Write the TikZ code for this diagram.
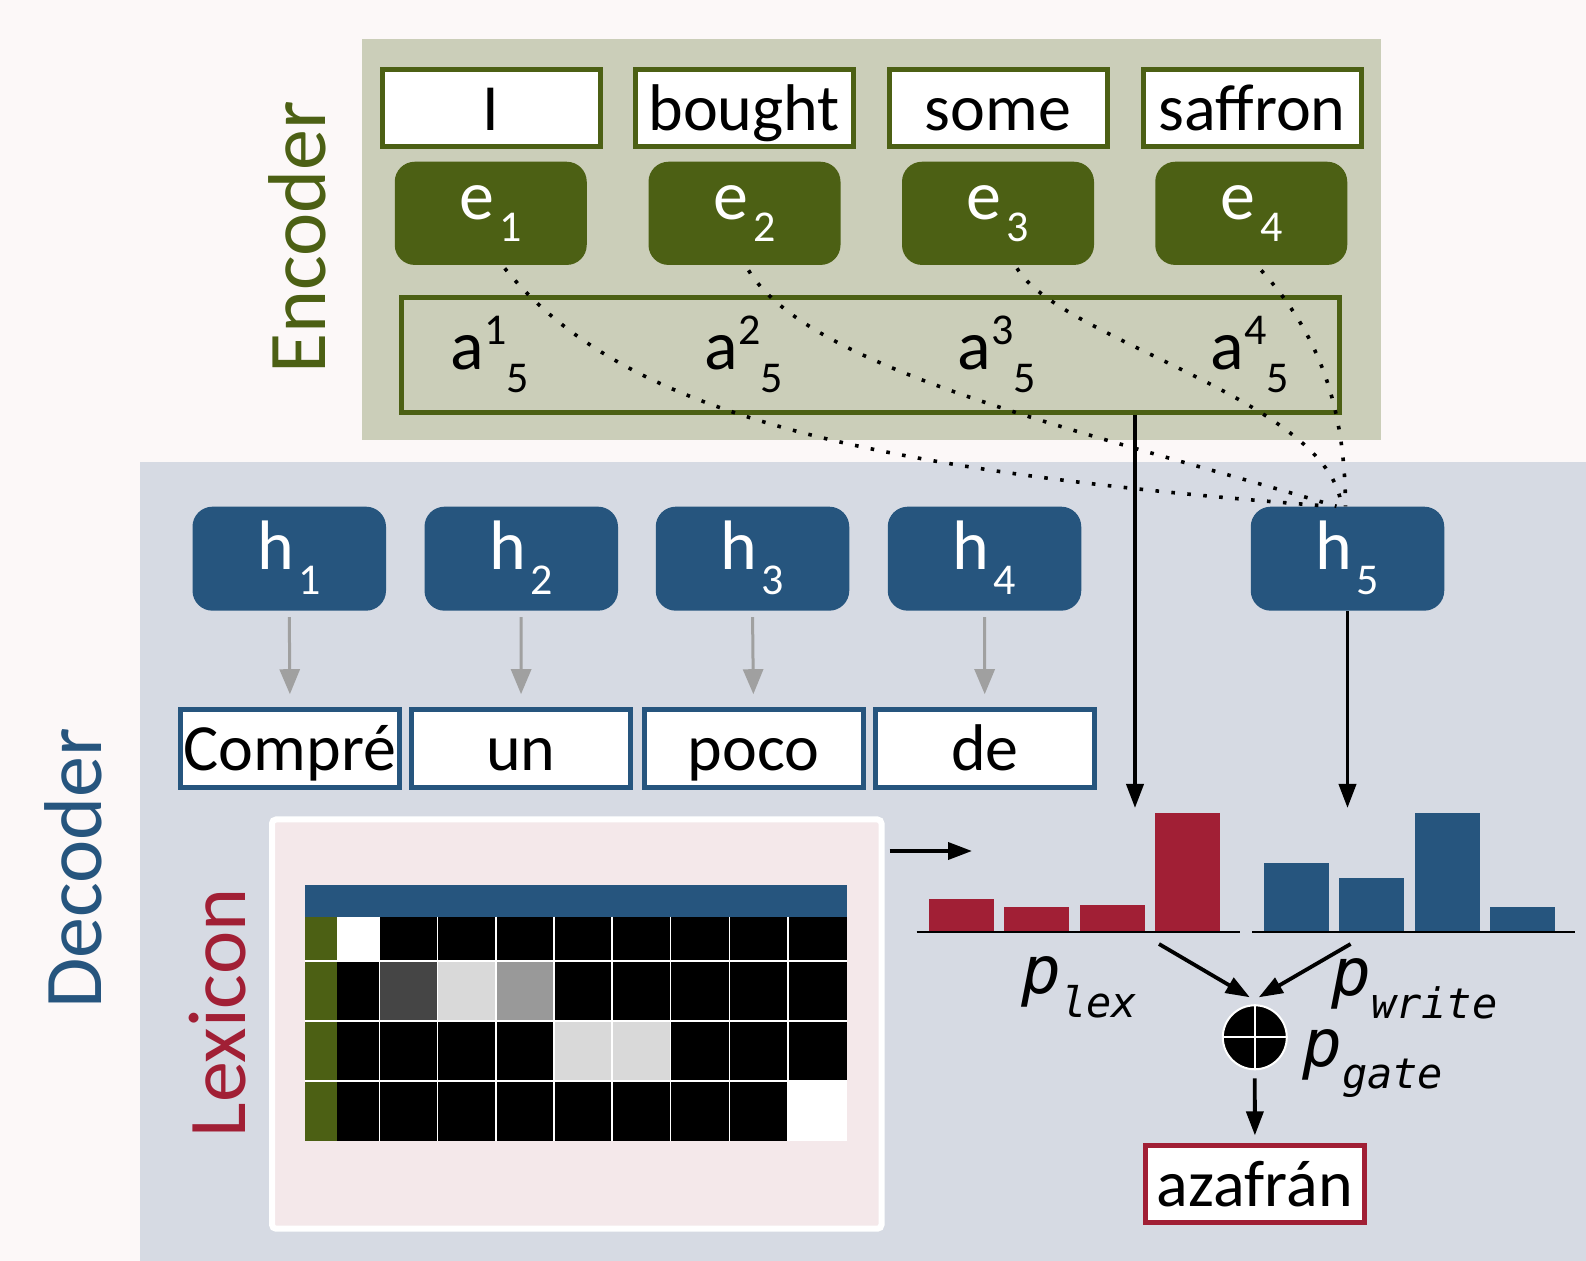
\documentclass[tikz,border=0pt]{standalone}
\usepackage{fontspec}
\setmainfont{Carlito}
\newfontfamily\pmono{DejaVu Sans Mono}
\usetikzlibrary{arrows.meta,calc}
\definecolor{encgreen}{RGB}{76,96,20}
\definecolor{encbg}{RGB}{203,206,185}
\definecolor{decbg}{RGB}{214,218,227}
\definecolor{pagebg}{RGB}{252,248,248}
\definecolor{lexbg}{RGB}{244,232,234}
\definecolor{lexred}{RGB}{161,31,53}
\definecolor{decblue}{RGB}{38,85,126}
\definecolor{arrowgrey}{RGB}{160,160,160}
\newcommand{\bigf}{\fontsize{33}{39}\selectfont}
\newcommand{\symf}{\fontsize{35}{41}\selectfont}
\newcommand{\subf}{\fontsize{22}{26}\selectfont}
\newcommand{\pbig}{\pmono\itshape\fontsize{33}{39}\selectfont}
\newcommand{\psub}{\pmono\itshape\fontsize{21}{25}\selectfont}
\begin{document}
\begin{tikzpicture}[x=0.5pt,y=-0.5pt,
  wordtxt/.style={font=\bigf, text height=26pt, text depth=4pt, inner sep=0pt},
  encword/.style={wordtxt, draw=encgreen, line width=2.5pt, fill=white, minimum width=109pt, minimum height=38.5pt},
  decword/.style={wordtxt, draw=decblue, line width=2.5pt, fill=white, minimum width=109.5pt, minimum height=39pt},
  outword/.style={wordtxt, draw=lexred, line width=2.5pt, fill=white, minimum width=109.5pt, minimum height=38.5pt},
  ebox/.style={fill=encgreen, rounded corners=10pt, minimum width=96pt, minimum height=51.6pt, text=white, font=\symf, inner sep=0pt, text height=14pt, text depth=7.4pt},
  hbox/.style={fill=decblue, rounded corners=10pt, minimum width=96.75pt, minimum height=52pt, text=white, font=\symf, inner sep=0pt, text height=17pt, text depth=5.7pt},
  alabel/.style={anchor=base, font=\symf, inner sep=0pt},
  sidelabel/.style={rotate=90, anchor=base, font=\fontsize{41}{49}\selectfont, inner sep=0pt},
  attdots/.style={line width=1.8pt, dash pattern=on 1.8pt off 6.2pt},
  greyarrow/.style={draw=arrowgrey, line width=1.5pt, -{Triangle[length=12.5pt,width=10pt]}},
  blackarrow/.style={draw=black, line width=1.9pt, -{Triangle[length=12pt,width=8.5pt]}},
  plabel/.style={anchor=base west, inner sep=0pt}
]
\useasboundingbox (0,0) rectangle (1586,1261);
\fill[pagebg] (0,0) rectangle (1586,1261);
% panels
\fill[encbg] (362,39) rectangle (1381,440);
\fill[decbg] (140,462) rectangle (1586,1261);
\node[draw=white, line width=3pt, fill=lexbg, rounded corners=2pt, minimum width=304.75pt, minimum height=204.6pt, inner sep=0pt] (lexpanel) at (576.75,1024.1) {};
% side labels
\node[sidelabel, text=encgreen] (enclabel) at (325,237) {Encoder};
\node[sidelabel, text=decblue] (declabel) at (101.7,868.5) {Decoder};
\node[sidelabel, text=lexred] (lexlabel) at (245,1013) {Lexicon};
% lexicon grid
\fill[decblue] (304.9,885) rectangle (846.5,916.7);
\fill[encgreen] (304.9,916.7) rectangle (336.7,1141);
\fill[black] (336.7,916.7) rectangle (846.5,1141);
\fill[white] (336.7,916.7) rectangle (379.6,961);
\fill[black!73] (379.6,961) rectangle (437.6,1021);
\fill[black!15] (437.6,961) rectangle (495.9,1021);
\fill[black!40] (495.9,961) rectangle (553.9,1021);
\fill[black!15] (553.9,1021) rectangle (670.6,1081);
\fill[white] (787.8,1081) rectangle (846.5,1141);
\foreach \gx in {379.6,437.6,495.9,553.9,612.2,670.6,729.4,787.8}
  \draw[white, line width=0.8pt] (\gx,916.7) -- (\gx,1141);
\foreach \gy in {961,1021,1081}
  \draw[white, line width=0.8pt] (304.9,\gy) -- (846.5,\gy);
% encoder words
\node[encword] (w1) at (491.3,108.3) {I};
\node[encword] (w2) at (744.25,108.3) {bought};
\node[encword] (w3) at (998,108.3) {some};
\node[encword] (w4) at (1252,108.3) {saffron};
% encoder states
\node[ebox] (e1) at (490.75,213.35) {e\hspace{2.5pt}\raisebox{-11pt}{\subf 1}};
\node[ebox] (e2) at (744.5,213.35) {e\hspace{2.5pt}\raisebox{-11pt}{\subf 2}};
\node[ebox] (e3) at (998,213.35) {e\hspace{2.5pt}\raisebox{-11pt}{\subf 3}};
\node[ebox] (e4) at (1251.25,213.35) {e\hspace{2.5pt}\raisebox{-11pt}{\subf 4}};
% attention box
\node[draw=encgreen, line width=2.5pt, minimum width=469pt, minimum height=57.5pt, inner sep=0pt] (abox) at (870.5,355) {};
\node[alabel] (a1) at (490,370) {a\raisebox{12.5pt}{\subf 1}\raisebox{-11.5pt}{\subf 5}};
\node[alabel] (a2) at (744,370) {a\raisebox{12.5pt}{\subf 2}\raisebox{-11.5pt}{\subf 5}};
\node[alabel] (a3) at (997,370) {a\raisebox{12.5pt}{\subf 3}\raisebox{-11.5pt}{\subf 5}};
\node[alabel] (a4) at (1250,370) {a\raisebox{12.5pt}{\subf 4}\raisebox{-11.5pt}{\subf 5}};
% decoder states
\node[hbox] (h1) at (289.25,558.7) {h\hspace{2pt}\raisebox{-12.5pt}{\subf 1}};
\node[hbox] (h2) at (521.25,558.7) {h\hspace{2pt}\raisebox{-12.5pt}{\subf 2}};
\node[hbox] (h3) at (752.5,558.7) {h\hspace{2pt}\raisebox{-12.5pt}{\subf 3}};
\node[hbox] (h4) at (984.5,558.7) {h\hspace{2pt}\raisebox{-12.5pt}{\subf 4}};
\node[hbox] (h5) at (1347.5,558.7) {h\hspace{2pt}\raisebox{-12.5pt}{\subf 5}};
% decoder words
\node[decword] (c1) at (290,748.5) {Compré};
\node[decword] (c2) at (521,748.5) {un};
\node[decword] (c3) at (753.5,748.5) {poco};
\node[decword] (c4) at (984.75,748.5) {de};
\foreach \i in {1,...,4}
  \draw[greyarrow, shorten <=3pt, shorten >=6.4pt] (h\i.south) -- (c\i.north);
% attention dotted curves
\draw[attdots] ($(e1.south)+(14,3)$) .. controls (620,410) and (850,470) .. ($(h5.north)+(-17,0)$);
\draw[attdots] ($(e2.south)+(4,5)$) .. controls (810,370) and (1080,430) .. ($(h5.north)+(-11,0)$);
\draw[attdots] ($(e3.south)+(19,3)$) .. controls (1060,340) and (1330,400) .. ($(h5.north)+(-6,0)$);
\draw[attdots] ($(e4.south)+(10,5)$) .. controls (1315,330) and (1345,400) .. ($(h5.north)+(-2,0)$);
% bars
\fill[lexred] (929,899) rectangle (994,931);
\fill[lexred] (1004,907) rectangle (1069,931);
\fill[lexred] (1080,905) rectangle (1145,931);
\fill[lexred] (1155,813) rectangle (1220,931);
\draw[line width=1pt] (916.6,932) -- (1240,932);
\fill[decblue] (1264,863) rectangle (1329,931);
\fill[decblue] (1339,878) rectangle (1404,931);
\fill[decblue] (1415,813) rectangle (1480,931);
\fill[decblue] (1490,907) rectangle (1555,931);
\draw[line width=1pt] (1252,932) -- (1575,932);
% arrows into distributions
\coordinate (lexin) at (1135,808);
\coordinate (writein) at (1347.5,808);
\draw[blackarrow] (lexin |- abox.south) -- (lexin);
\draw[blackarrow] (h5.south) -- (writein);
\coordinate (lexarr) at (972,851);
\draw[blackarrow, shorten <=2.5pt] (lexpanel.east |- lexarr) -- (lexarr);
% gate
\node[circle, fill=black, draw=white, line width=1pt, minimum size=32pt, inner sep=0pt] (gate) at (1254.8,1037.3) {};
\draw[white, line width=1pt] (gate.north) -- (gate.south) (gate.west) -- (gate.east);
\coordinate (lexout) at (1159,944);
\coordinate (writeout) at (1350.6,944);
\draw[blackarrow] (lexout) -- ($(gate.north)+(-5,-7)$);
\draw[blackarrow] (writeout) -- ($(gate.north)+(4,-7)$);
\node[outword] (out) at (1254.9,1184.4) {azafrán};
\draw[blackarrow] ($(gate.south)+(0,8)$) -- ($(out.north)+(0,-8)$);
% probability labels
\node[plabel] (plex) at (1021,993) {\pbig p\raisebox{-12.5pt}{\psub lex}};
\node[plabel] (pwrite) at (1331,995) {\pbig p\raisebox{-11.5pt}{\psub write}};
\node[plabel] (pgate) at (1302,1066) {\pbig p\raisebox{-11pt}{\psub gate}};
\end{tikzpicture}
\end{document}
